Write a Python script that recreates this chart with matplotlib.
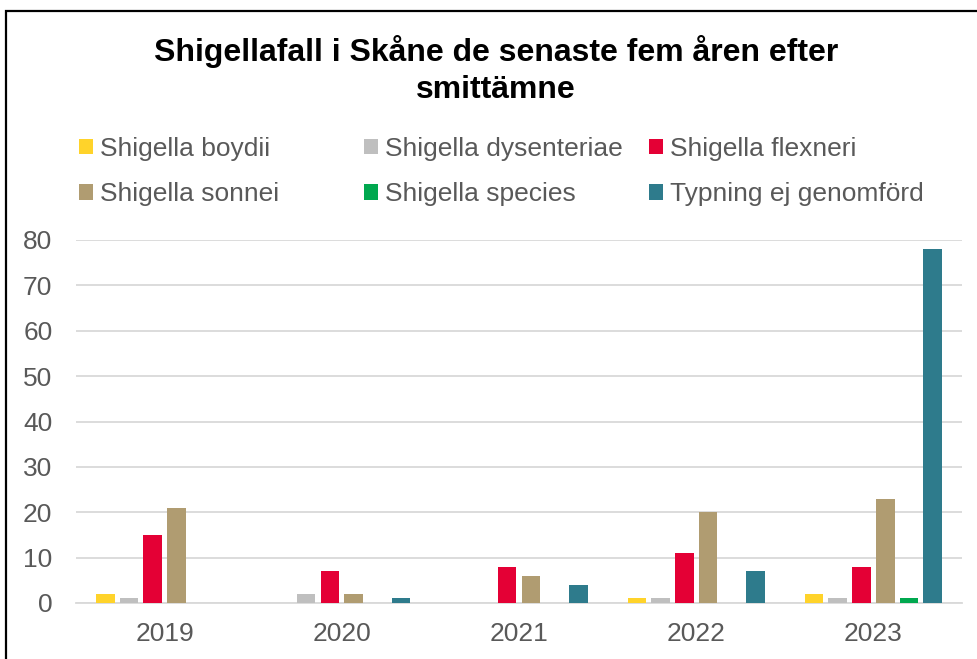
import matplotlib
matplotlib.use("Agg")
import matplotlib.pyplot as plt
import matplotlib.patches as mpatches
import numpy as np

plt.rcParams['font.family'] = ['Liberation Sans', 'DejaVu Sans']

years = ["2019", "2020", "2021", "2022", "2023"]
series_names = ["Shigella boydii", "Shigella dysenteriae", "Shigella flexneri",
                "Shigella sonnei", "Shigella species", "Typning ej genomförd"]
boydii = [2, 0, 0, 1, 2]
dysenteriae = [1, 2, 0, 1, 1]
flexneri = [15, 7, 8, 11, 8]
sonnei = [21, 2, 6, 20, 23]
species = [0, 0, 0, 0, 1]
typning = [0, 1, 4, 7, 78]
colors = ["#FFD32A", "#BFBFBF", "#E40035", "#B09C71", "#00A84F", "#2E7B8C"]

series = [boydii, dysenteriae, flexneri, sonnei, species, typning]

W, H = 977, 659
fig = plt.figure(figsize=(W / 100, H / 100), dpi=100)
ax = fig.add_axes([76 / W, (H - 603) / H, (962 - 76) / W, (603 - 240) / H])

x = np.arange(len(years))
step = 0.134
width = 0.105
handles = []
for i, (vals, name, c) in enumerate(zip(series, series_names, colors)):
    b = ax.bar(x + (i - 2.5) * step, vals, width, color=c, label=name, zorder=3)
    handles.append(b)

ax.set_xlim(-0.5, len(years) - 0.5)
ax.set_ylim(0, 80)
ax.set_yticks(range(0, 81, 10))
ax.set_xticks(x)
ax.set_xticklabels(years)
ax.grid(axis="y", color="#D9D9D9", linewidth=1.3, zorder=0)
for s in ["top", "right", "left"]:
    ax.spines[s].set_visible(False)
ax.spines["bottom"].set_color("#D9D9D9")
ax.spines["bottom"].set_linewidth(1.3)
ax.tick_params(axis="both", length=0, labelsize=19, colors="#595959")
ax.tick_params(axis="x", pad=14)
ax.tick_params(axis="y", pad=17)

# legend: three columns of two entries, equal column widths like the original
col_x = [79, 364, 649]
for col in range(3):
    idx = [col, col + 3]
    leg = fig.legend([handles[i] for i in idx], [series_names[i] for i in idx],
                     loc="upper left", bbox_to_anchor=(col_x[col] / W, 1 - 137 / H),
                     frameon=False, fontsize=19, handlelength=0.53, handleheight=0.53,
                     handletextpad=0.25, labelspacing=0.8, borderpad=0, borderaxespad=0)
    for t in leg.get_texts():
        t.set_color("#595959")

fig.text(496 / W, 1 - 70 / H, "Shigellafall i Skåne de senaste fem åren efter\nsmittämne",
         ha="center", va="center", fontsize=23, fontweight="bold", linespacing=1.3)

# outer chart frame
fig.patches.append(mpatches.Rectangle((6 / W, -0.1), 1.2, 1 - 11 / H + 0.1,
                                      transform=fig.transFigure, fill=False,
                                      edgecolor="black", linewidth=1.6))

fig.savefig("out.png", dpi=100)
